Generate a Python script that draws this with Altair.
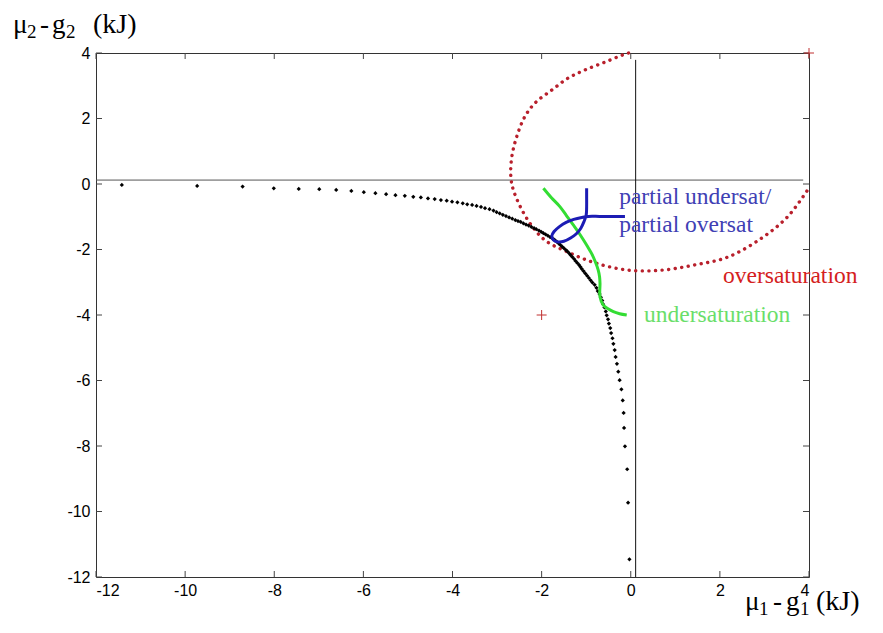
import altair as alt
import pandas as pd

# ---------------- data ----------------
X_TICKS = [-12, -10, -8, -6, -4, -2, 0, 2, 4]
Y_TICKS = [-12, -10, -8, -6, -4, -2, 0, 2, 4]

# black dotted boundary (one dot per point)
BLACK_X = [-11.42, -9.73, -8.71, -8.01, -7.45, -6.99, -6.61, -6.27, -5.99, -5.73,
           -5.49, -5.28, -5.07, -4.88, -4.71, -4.55, -4.40, -4.26, -4.13, -4.01,
           -3.89, -3.77, -3.67, -3.56, -3.46, -3.36, -3.27, -3.17, -3.08, -3.01,
           -2.94, -2.87, -2.80, -2.73, -2.66, -2.59, -2.53, -2.47, -2.41, -2.35,
           -2.29, -2.23, -2.17, -2.12, -2.06, -2.01, -1.96, -1.91, -1.86, -1.81,
           -1.76, -1.72,
           -1.70, -1.66, -1.62, -1.58, -1.54, -1.50, -1.46, -1.42, -1.38, -1.35,
           -1.31, -1.27, -1.24, -1.20, -1.16, -1.13, -1.10, -1.06, -1.02, -0.98,
           -0.94, -0.90,
           -0.86, -0.81, -0.77, -0.74, -0.70, -0.67, -0.64, -0.62, -0.59, -0.56,
           -0.54, -0.51, -0.49, -0.46, -0.44, -0.41, -0.39, -0.36, -0.34, -0.31,
           -0.28, -0.25, -0.21, -0.18, -0.16, -0.15, -0.13, -0.08, -0.06, -0.03]
BLACK_Y = [-0.03, -0.06, -0.08, -0.13, -0.15, -0.16, -0.18, -0.21, -0.25, -0.28,
           -0.31, -0.34, -0.36, -0.39, -0.41, -0.44, -0.46, -0.49, -0.51, -0.54,
           -0.56, -0.59, -0.62, -0.64, -0.67, -0.70, -0.74, -0.77, -0.81, -0.86,
           -0.90, -0.94, -0.98, -1.02, -1.06, -1.10, -1.13, -1.16, -1.20, -1.24,
           -1.27, -1.31, -1.35, -1.38, -1.42, -1.46, -1.50, -1.54, -1.58, -1.62,
           -1.66, -1.70,
           -1.72, -1.76, -1.81, -1.86, -1.91, -1.96, -2.01, -2.06, -2.12, -2.17,
           -2.23, -2.29, -2.35, -2.41, -2.47, -2.53, -2.59, -2.66, -2.73, -2.80,
           -2.87, -2.94,
           -3.01, -3.08, -3.17, -3.27, -3.36, -3.46, -3.56, -3.67, -3.77, -3.89,
           -4.01, -4.13, -4.26, -4.40, -4.55, -4.71, -4.88, -5.07, -5.28, -5.49,
           -5.73, -5.99, -6.27, -6.61, -6.99, -7.45, -8.01, -8.71, -9.73, -11.46]

# red dotted curve (oversaturation)
RED_X = [-0.05, -0.18, -0.58, -1.03, -1.41, -1.77, -2.15, -2.38, -2.56, -2.67,
         -2.69, -2.62, -2.31, -1.93, -1.41, -0.80, -0.06, 0.70, 1.44, 2.18,
         2.94, 3.52, 3.97]
RED_Y = [4.00, 3.94, 3.72, 3.48, 3.23, 2.87, 2.47, 2.05, 1.44, 0.82,
         0.21, -0.24, -1.10, -1.71, -2.08, -2.41, -2.63, -2.63, -2.47, -2.23,
         -1.65, -1.00, -0.18]

# green curve (undersaturation)
GREEN_X = [-1.96, -1.78, -1.59, -1.44, -1.29, -1.17, -1.06, -0.97, -0.88, -0.80,
           -0.73, -0.70, -0.69, -0.69, -0.62, -0.50, -0.39, -0.25, -0.09]
GREEN_Y = [-0.13, -0.42, -0.69, -0.97, -1.25, -1.48, -1.71, -1.91, -2.12, -2.36,
           -2.63, -2.83, -3.03, -3.44, -3.69, -3.82, -3.90, -3.96, -4.00]

# blue curve (partial undersat / partial oversat)
BLUE_X = [-0.99, -0.99, -0.99, -1.00, -1.05, -1.12, -1.22, -1.35, -1.50, -1.63,
          -1.74, -1.77, -1.72, -1.60, -1.45, -1.28, -1.10, -0.95, -0.70, -0.40,
          -0.13]
BLUE_Y = [-0.13, -0.40, -0.70, -0.95, -1.15, -1.35, -1.52, -1.65, -1.75, -1.77,
          -1.70, -1.58, -1.45, -1.30, -1.17, -1.08, -1.02, -0.99, -0.99, -0.99,
          -0.99]

# red "+" markers
PLUS_X = [4, -2]
PLUS_Y = [4, -4]

# reference lines
HLINE = {"y": 0.12, "x": -12, "x2": 3.87}
VLINE = {"x": 0.11, "y": -12, "y2": 3.79}

LABELS = ["partial undersat/", "partial oversat", "oversaturation", "undersaturation"]
LABEL_X = [-0.26, -0.26, 2.07, 0.30]
LABEL_Y = [-0.61, -1.47, -3.02, -4.21]
LABEL_COLOR = ["#4040b4", "#4040b4", "#d42020", "#6ade6a"]

# axis titles, split in pieces so the subscripts sit low like the original
Y_TITLE_TEXT = ["μ", "2", "-", "g", "2", "(kJ)"]
X_TITLE_TEXT = ["μ", "1", "-", "g", "1", "(kJ)"]

# ---------------- layout (pixels, relative to the plot area) ----------------
W, H = 713, 524
TL = 6
MAIN_FS, SUB_FS = 27, 19
Y_TITLE_POS = [(-83, -20, MAIN_FS), (-69, -15, SUB_FS), (-56, -20, MAIN_FS),
               (-44, -20, MAIN_FS), (-30, -15, SUB_FS), (-3, -20, MAIN_FS + 1)]
X_TITLE_POS = [(649, 557, MAIN_FS), (663, 562, SUB_FS), (677, 557, MAIN_FS),
               (690, 557, MAIN_FS), (704, 562, SUB_FS), (720, 557, MAIN_FS + 1)]

xs = alt.Scale(domain=[-12, 4], nice=False, zero=False)
ys = alt.Scale(domain=[-12, 4], nice=False, zero=False)

X_AXIS = alt.Axis(values=X_TICKS, labelExpr="'' + datum.value", ticks=False, domain=False,
                  grid=False, labelFont="Liberation Sans", labelFontSize=16, labelColor="black",
                  labelPadding=5, title="")
Y_AXIS = alt.Axis(values=Y_TICKS, labelExpr="'' + datum.value", ticks=False, domain=False,
                  grid=False, labelFont="Liberation Sans", labelFontSize=16, labelColor="black",
                  labelPadding=6, title="")


def X(field):
    return alt.X(field, scale=xs, axis=X_AXIS)


def Y(field):
    return alt.Y(field, scale=ys, axis=Y_AXIS)


xt = pd.DataFrame({"v": X_TICKS})
yt = pd.DataFrame({"v": Y_TICKS})

tick_col = "#444444"
ticks_bottom = alt.Chart(xt).mark_rule(color=tick_col).encode(
    x=X("v:Q"), y=alt.value(H), y2=alt.value(H - TL))
ticks_top = alt.Chart(xt).mark_rule(color=tick_col).encode(
    x=X("v:Q"), y=alt.value(0), y2=alt.value(TL))
ticks_left = alt.Chart(yt).mark_rule(color=tick_col).encode(
    y=Y("v:Q"), x=alt.value(0), x2=alt.value(TL))
ticks_right = alt.Chart(yt).mark_rule(color=tick_col).encode(
    y=Y("v:Q"), x=alt.value(W), x2=alt.value(W - TL))

hline = alt.Chart(pd.DataFrame([HLINE])).mark_rule(color="#555555", strokeWidth=1).encode(
    x=X("x:Q"), x2="x2:Q", y=Y("y:Q"))
vline = alt.Chart(pd.DataFrame([VLINE])).mark_rule(color="#111111", strokeWidth=1).encode(
    x=X("x:Q"), y=Y("y:Q"), y2="y2:Q")

red_df = pd.DataFrame({"x": RED_X, "y": RED_Y, "i": list(range(len(RED_X)))})
red = alt.Chart(red_df).mark_line(color="#b8202c", strokeWidth=3.4, strokeDash=[0.1, 6.5],
                                  strokeCap="round", interpolate="catmull-rom").encode(
    x=X("x:Q"), y=Y("y:Q"), order="i:Q")

black_df = pd.DataFrame({"x": BLACK_X, "y": BLACK_Y})
black = alt.Chart(black_df).mark_point(shape="diamond", filled=True, size=18, color="black",
                                       opacity=1).encode(
    x=X("x:Q"), y=Y("y:Q"))

green_df = pd.DataFrame({"x": GREEN_X, "y": GREEN_Y, "i": list(range(len(GREEN_X)))})
green = alt.Chart(green_df).mark_line(color="#33dd33", strokeWidth=3,
                                      interpolate="catmull-rom").encode(
    x=X("x:Q"), y=Y("y:Q"), order="i:Q")

blue_df = pd.DataFrame({"x": BLUE_X, "y": BLUE_Y, "i": list(range(len(BLUE_X)))})
blue = alt.Chart(blue_df).mark_line(color="#1c1cb4", strokeWidth=3,
                                    interpolate="catmull-rom").encode(
    x=X("x:Q"), y=Y("y:Q"), order="i:Q")

plus_df = pd.DataFrame({"x": PLUS_X, "y": PLUS_Y})
plus = alt.Chart(plus_df).mark_point(shape="M-1,0L1,0M0,-1L0,1", filled=False, size=100,
                                     strokeWidth=1, color="#c03030", opacity=1).encode(
    x=X("x:Q"), y=Y("y:Q"))

lab_df = pd.DataFrame({"x": LABEL_X, "y": LABEL_Y, "t": LABELS, "c": LABEL_COLOR})
labels = alt.Chart(lab_df).mark_text(align="left", baseline="alphabetic",
                                     font="Liberation Serif", fontSize=23.5).encode(
    x=X("x:Q"), y=Y("y:Q"), text="t:N", color=alt.Color("c:N", scale=None))

title_layers = []
for texts, poss in ((Y_TITLE_TEXT, Y_TITLE_POS), (X_TITLE_TEXT, X_TITLE_POS)):
    for t, (px, py, fs) in zip(texts, poss):
        title_layers.append(
            alt.Chart(pd.DataFrame({"t": [t]})).mark_text(
                align="left", baseline="alphabetic", font="Liberation Serif",
                fontSize=fs, color="black").encode(
                x=alt.value(px), y=alt.value(py), text="t:N"))

chart = alt.layer(
    hline, vline, ticks_bottom, ticks_top, ticks_left, ticks_right,
    red, black, green, blue, plus, labels, *title_layers
).properties(
    width=W, height=H,
    autosize=alt.AutoSizeParams(type="none"),
    padding={"left": 88, "top": 45, "right": 66, "bottom": 42},
    background="white",
).configure_view(stroke="#333333", strokeWidth=1)

chart.save("out.html", embed_options={"renderer": "svg", "actions": False})
